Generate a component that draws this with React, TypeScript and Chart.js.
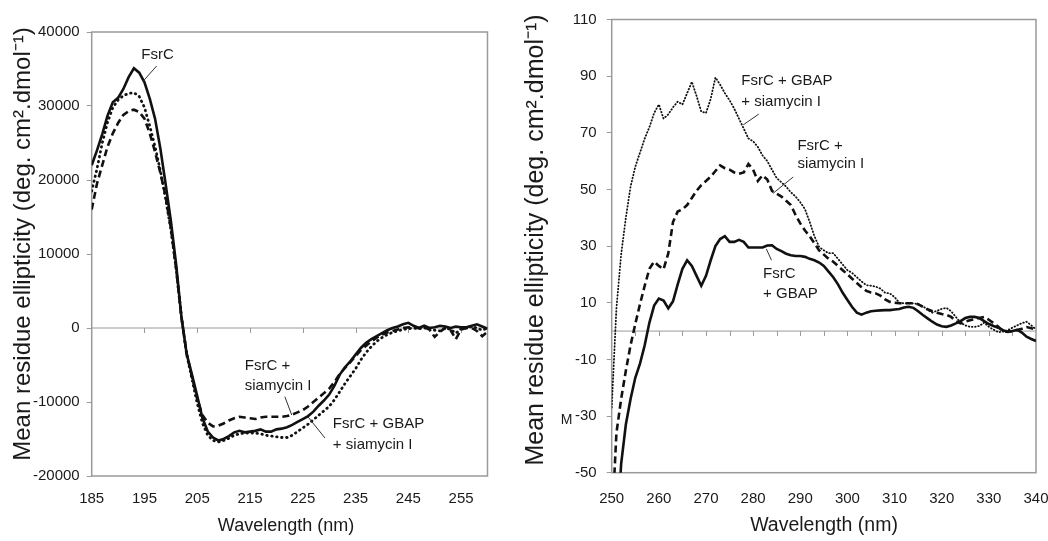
import React, { useEffect, useRef } from "react";
import { Chart, registerables } from "chart.js";

Chart.register(...registerables);

const FONT = '"Liberation Sans", Arial, sans-serif';
const TEXT = "#1a1a1a";
const FRAME = "#9a9a9a";

// ---------- Left panel (far-UV) ----------
const farUvWavelength = [
  185, 186, 187, 188, 189, 190, 191, 192, 193, 194,
  195, 196, 197, 198, 199, 200, 201, 202, 203, 204,
  205, 206, 207, 208, 209, 210, 211, 212, 213, 214,
  215, 216, 217, 218, 219, 220, 221, 222, 223, 224,
  225, 226, 227, 228, 229, 230, 231, 232, 233, 234,
  235, 236, 237, 238, 239, 240, 241, 242, 243, 244,
  245, 246, 247, 248, 249, 250, 251, 252, 253, 254,
  255, 256, 257, 258, 259, 260,
];
const farUvFsrC = [
  22000, 24000, 26200, 28700, 30500, 31100, 32300, 33900, 35100, 34500,
  33200, 31000, 28300, 24300, 19500, 14500, 8600, 1500, -3500, -6300,
  -9200, -12200, -14000, -14800, -15200, -15000, -14600, -14100, -13900, -14100,
  -14000, -13900, -13700, -14000, -14000, -13700, -13600, -13400, -13100, -12700,
  -12300, -11900, -11300, -10500, -9800, -9000, -7800, -6300, -5300, -4500,
  -3600, -2700, -2000, -1500, -1100, -700, -300, 0, 200, 500,
  700, 300, 0, 300, 0, 100, 300, 200, 0, 200,
  100, 100, 300, 500, 200, -100,
];
const farUvFsrCSiamycin = [
  16000, 19500, 22000, 24500, 26300, 27700, 28800, 29300, 29500, 29200,
  28300, 26300, 23800, 21000, 17800, 13500, 8000, 1500, -3500, -6600,
  -9600, -11800, -12800, -13300, -13200, -12900, -12500, -12200, -12000, -12100,
  -12200, -12300, -12100, -12000, -12000, -12000, -12000, -11900, -11700, -11400,
  -11100, -10600, -10000, -9400, -8800, -8200, -7300, -6200, -5400, -4600,
  -3800, -3000, -2400, -1800, -1300, -900, -600, -400, -200, 0,
  100, 0, 0, 100, -200, -1200, -500, 0, -300, -1500,
  -200, 0, 0, -400, -1100, -500,
];
const farUvFsrCGbapSiamycin = [
  18500, 21500, 25000, 27800, 29800, 30800, 31400, 31700, 31800, 31300,
  29800, 27300, 24500, 21300, 17500, 13300, 8000, 1500, -3600, -6900,
  -10200, -12900, -14500, -15200, -15400, -15200, -14900, -14500, -14300, -14200,
  -14200, -14200, -14300, -14500, -14600, -14700, -14800, -14800, -14500, -14000,
  -13500, -13000, -12400, -11800, -11200, -10600, -9700, -8600, -7500, -6500,
  -5500, -4300, -3300, -2500, -1800, -1300, -900, -600, -400, -200,
  -100, 0, -100, 0, 0, -300, -400, 0, -200, -700,
  -100, 0, 200, 0, -300, 0,
];
const farUvXTicks = [185, 195, 205, 215, 225, 235, 245, 255];
const farUvYTicks = [-20000, -10000, 0, 10000, 20000, 30000, 40000];
const farUvZeroTicks = [195, 205, 215, 225, 235, 245, 255];

// ---------- Right panel (near-UV) ----------
const nearUvWavelength = [
  250, 251, 252, 253, 254, 255, 256, 257, 258, 259,
  260, 261, 262, 263, 264, 265, 266, 267, 268, 269,
  270, 271, 272, 273, 274, 275, 276, 277, 278, 279,
  280, 281, 282, 283, 284, 285, 286, 287, 288, 289,
  290, 291, 292, 293, 294, 295, 296, 297, 298, 299,
  300, 301, 302, 303, 304, 305, 306, 307, 308, 309,
  310, 311, 312, 313, 314, 315, 316, 317, 318, 319,
  320, 321, 322, 323, 324, 325, 326, 327, 328, 329,
  330, 331, 332, 333, 334, 335, 336, 337, 338, 339,
  340,
];
const nearUvFsrCGbap = [
  -90, -75, -47, -33, -24, -16.5, -11.5, -5, 3, 9,
  11.5, 10.8, 8, 10.5, 16.5, 22, 25, 23, 19.5, 16,
  19.5, 25, 30, 32.5, 33.5, 31.5, 31.5, 32.2, 31.5, 29.5,
  29.5, 29.5, 29.5, 30.2, 30.3, 29, 28.2, 27.3, 26.8, 26.5,
  26.5, 26.2, 25.5, 25, 24.2, 23, 21, 19, 16.5, 13.5,
  11, 8.5, 6.5, 5.8, 6.5, 7, 7.2, 7.3, 7.4, 7.4,
  7.6, 7.8, 8.3, 8.6, 8.2, 7, 5.7, 4.5, 3.3, 2.3,
  1.7, 1.5, 2, 2.7, 3.5, 4.6, 5, 5, 4.6, 3.5,
  2.5, 1.8, 1.2, 0.3, -0.2, 0, 0.4, -0.5, -2, -2.8,
  -3.5,
];
const nearUvFsrCSiamycin = [
  -70, -36, -24, -14, -5, 2.5, 9.5, 16, 22, 24.5,
  23, 21.8, 27.4, 38.5, 42.2, 43, 44.5, 47, 49.5, 51.5,
  53, 54.5, 56.5, 58.5, 57.5, 57, 56, 55.5, 56, 59,
  57, 53, 55, 53.5, 49.5, 48.5, 47.5, 46, 44.5, 41,
  38, 35.5, 33.5, 31, 28.5, 27, 25.5, 24.5, 23, 21.5,
  20, 18.5, 17, 15.5, 14.2, 13.6, 13.3, 12.5, 11.2, 10.3,
  10, 9.8, 9.8, 9.8, 9.8, 9.5, 8.5, 7.7, 7, 6.5,
  6, 5.7, 5, 3.5, 2.7, 3.3, 3.8, 4.2, 4.6, 5,
  4, 2.8, 1.5, 0, -0.3, 0, 0.4, 0.8, 1.4, 1,
  0.5,
];
const nearUvFsrCGbapSiamycin = [
  -27, 8, 27, 40, 51, 58, 63, 68, 72, 77,
  80, 75, 76.5, 79, 81, 80, 84, 88, 83, 77.5,
  77, 82, 89.5, 87, 84, 81.5, 78.5, 75, 71.5, 68,
  67, 65, 62, 60, 57, 54, 52.5, 51, 49, 47.5,
  45.5, 43, 38.5, 33.5, 29.7, 28.5, 27.5, 27.5, 25.5, 23.5,
  21.5, 20.5, 19, 17.5, 16.2, 16, 15.7, 15, 13.5, 13.3,
  12, 10, 9.8, 9.8, 9.8, 9.5, 8.8, 7.5, 6.5, 7.2,
  7.8, 8.2, 7, 5, 3, 2, 1.5, 1.5, 1.8, 3,
  1.5, 0.5, -0.4, -0.2, 0.3, 1.2, 2, 2.8, 3.3, 2,
  0.6,
];
const nearUvXTicks = [250, 260, 270, 280, 290, 300, 310, 320, 330, 340];
const nearUvYTicks = [-50, -30, -10, 10, 30, 50, 70, 90, 110];
const nearUvZeroTicks = [
  255, 260, 265, 270, 275, 280, 285, 290, 295, 300,
  305, 310, 315, 320, 325, 330, 335,
];

const Y_TITLE = "Mean residue ellipticity (deg. cm\u00B2.dmol\u207B\u00B9)";
const X_TITLE = "Wavelength (nm)";

type Note = { lines: string[]; x: number; ys: number[]; leader: number[] };

const farUvNotes: Note[] = [
  { lines: ["FsrC"], x: 194.4, ys: [36900], leader: [197.3, 35400, 194.8, 33400] },
  { lines: ["FsrC +", "siamycin I"], x: 214.0, ys: [-5110, -7840], leader: [221.6, -9280, 222.9, -11760] },
  { lines: ["FsrC + GBAP", "+ siamycin I"], x: 230.7, ys: [-12970, -15810], leader: [229.2, -14860, 226.0, -12030] },
];
const nearUvNotes: Note[] = [
  { lines: ["FsrC + GBAP", "+ siamycin I"], x: 277.5, ys: [88.3, 80.8], leader: [281.2, 76.6, 277.9, 72.8] },
  { lines: ["FsrC +", "siamycin I"], x: 289.4, ys: [65.3, 58.9], leader: [288.5, 54.4, 284.2, 48.6] },
  { lines: ["FsrC", "+ GBAP"], x: 282.1, ys: [20.1, 13.0], leader: [283.9, 25.0, 282.8, 29.0] },
];

type Panel = {
  width: number;
  xMin: number; xMax: number; yMin: number; yMax: number;
  xTicks: number[]; yTicks: number[]; zeroTicks: number[];
  wl: number[];
  solid: number[]; dashed: number[]; dotted: number[];
  dottedWidth: number; dottedDash: number[];
  notes: Note[];
  padTop: number; padRight: number; xAxisH: number; yAxisW: number;
  yTickPad: number; xTickPad: number;
  yTitleX: number; yTitleY: number; yTitleSize: number;
  xTitleX: number; xTitleY: number; xTitleSize: number;
  stray?: boolean;
};

function decor(p: Panel) {
  return {
    id: "decor",
    beforeDatasetsDraw(chart: any) {
      const { ctx, chartArea: a, scales } = chart;
      const xs = scales.x, ys = scales.y;
      ctx.save();
      const y0 = ys.getPixelForValue(0);
      ctx.strokeStyle = FRAME;
      ctx.lineWidth = 1;
      ctx.beginPath();
      ctx.moveTo(a.left, y0);
      ctx.lineTo(a.right, y0);
      ctx.stroke();
      for (const t of p.zeroTicks) {
        const x = Math.round(xs.getPixelForValue(t)) + 0.5;
        ctx.beginPath();
        ctx.moveTo(x, y0);
        ctx.lineTo(x, y0 + 5);
        ctx.stroke();
      }
      ctx.lineWidth = 1.5;
      ctx.strokeRect(a.left, a.top, a.right - a.left, a.bottom - a.top);
      ctx.restore();
    },
    afterDraw(chart: any) {
      const { ctx, chartArea: a, scales } = chart;
      const xs = scales.x, ys = scales.y;
      ctx.save();
      ctx.fillStyle = TEXT;
      ctx.strokeStyle = "#333";
      ctx.lineWidth = 1;
      ctx.textAlign = "left";
      ctx.textBaseline = "middle";
      ctx.font = `15px ${FONT}`;
      for (const n of p.notes) {
        n.lines.forEach((line, i) => {
          ctx.fillText(line, xs.getPixelForValue(n.x), ys.getPixelForValue(n.ys[i]));
        });
        ctx.beginPath();
        ctx.moveTo(xs.getPixelForValue(n.leader[0]), ys.getPixelForValue(n.leader[1]));
        ctx.lineTo(xs.getPixelForValue(n.leader[2]), ys.getPixelForValue(n.leader[3]));
        ctx.stroke();
      }
      ctx.textAlign = "center";
      ctx.font = `${p.xTitleSize}px ${FONT}`;
      ctx.fillText(X_TITLE, p.xTitleX, p.xTitleY);
      ctx.save();
      ctx.translate(p.yTitleX, p.yTitleY);
      ctx.rotate(-Math.PI / 2);
      ctx.font = `${p.yTitleSize}px ${FONT}`;
      ctx.fillText(Y_TITLE, 0, 0);
      ctx.restore();
      if (p.stray) {
        ctx.font = `14px ${FONT}`;
        ctx.textAlign = "center";
        ctx.fillText("M", a.left - 45, ys.getPixelForValue(-30) + 4);
      }
      ctx.restore();
    },
  };
}

function ChartPanel({ p, left }: { p: Panel; left: number }) {
  const ref = useRef<HTMLCanvasElement | null>(null);
  useEffect(() => {
    if (!ref.current) return;
    const mk = (ys: number[]) => p.wl.map((x, i) => ({ x, y: ys[i] }));
    const chart = new Chart(ref.current, {
      type: "line",
      data: {
        datasets: [
          { data: mk(p.dotted), borderColor: "#111", borderWidth: p.dottedWidth, borderDash: p.dottedDash, borderCapStyle: "round", pointRadius: 0, tension: 0 },
          { data: mk(p.dashed), borderColor: "#111", borderWidth: 2.6, borderDash: [7, 4], pointRadius: 0, tension: 0 },
          { data: mk(p.solid), borderColor: "#111", borderWidth: 2.6, pointRadius: 0, tension: 0 },
        ],
      } as any,
      options: {
        animation: false,
        responsive: false,
        events: [],
        layout: { padding: { top: p.padTop, right: p.padRight, left: 0, bottom: 0 } },
        plugins: { legend: { display: false }, tooltip: { enabled: false } },
        scales: {
          x: {
            type: "linear",
            min: p.xMin,
            max: p.xMax,
            afterBuildTicks: (s: any) => { s.ticks = p.xTicks.map((v) => ({ value: v })); },
            afterFit: (s: any) => { s.height = p.xAxisH; s.paddingLeft = 0; s.paddingRight = 0; },
            grid: { display: false, drawTicks: false },
            border: { display: false },
            ticks: { padding: p.xTickPad, color: TEXT, font: { family: FONT, size: 15 }, maxRotation: 0, autoSkip: false, callback: (v: any) => String(v) },
          },
          y: {
            type: "linear",
            min: p.yMin,
            max: p.yMax,
            afterBuildTicks: (s: any) => { s.ticks = p.yTicks.map((v) => ({ value: v })); },
            afterFit: (s: any) => { s.width = p.yAxisW; s.paddingTop = 0; s.paddingBottom = 0; },
            grid: { drawOnChartArea: false, color: FRAME, tickLength: 5 },
            border: { display: false },
            ticks: { padding: p.yTickPad, color: TEXT, font: { family: FONT, size: 15 }, autoSkip: false, callback: (v: any) => String(v) },
          },
        },
      } as any,
      plugins: [decor(p)],
    });
    return () => chart.destroy();
  }, [p]);
  return (
    <canvas
      ref={ref}
      width={p.width}
      height={541}
      style={{ position: "absolute", left, top: 0, width: p.width, height: 541 }}
    />
  );
}

const leftPanel: Panel = {
  width: 520,
  xMin: 185, xMax: 260, yMin: -20000, yMax: 40000,
  xTicks: farUvXTicks, yTicks: farUvYTicks, zeroTicks: farUvZeroTicks,
  wl: farUvWavelength,
  solid: farUvFsrC, dashed: farUvFsrCSiamycin, dotted: farUvFsrCGbapSiamycin,
  dottedWidth: 2.8, dottedDash: [0.5, 4.5],
  notes: farUvNotes,
  padTop: 32, padRight: 32.5, xAxisH: 65, yAxisW: 91.7,
  yTickPad: 7, xTickPad: 14,
  yTitleX: 23, yTitleY: 244, yTitleSize: 24,
  xTitleX: 286, xTitleY: 526, xTitleSize: 18,
};

const rightPanel: Panel = {
  width: 528,
  xMin: 250, xMax: 340, yMin: -50, yMax: 110,
  xTicks: nearUvXTicks, yTicks: nearUvYTicks, zeroTicks: nearUvZeroTicks,
  wl: nearUvWavelength,
  solid: nearUvFsrCGbap, dashed: nearUvFsrCSiamycin, dotted: nearUvFsrCGbapSiamycin,
  dottedWidth: 1.8, dottedDash: [0.6, 2.6],
  notes: nearUvNotes,
  padTop: 19.5, padRight: 12, xAxisH: 68.3, yAxisW: 91.7,
  yTickPad: 10, xTickPad: 17,
  yTitleX: 16, yTitleY: 240, yTitleSize: 25,
  xTitleX: 304, xTitleY: 526, xTitleSize: 19.5,
  stray: true,
};

export default function App() {
  return (
    <div style={{ position: "absolute", left: 0, top: 0, width: 1048, height: 541, background: "#fff", overflow: "hidden" }}>
      <ChartPanel p={leftPanel} left={0} />
      <ChartPanel p={rightPanel} left={520} />
    </div>
  );
}
